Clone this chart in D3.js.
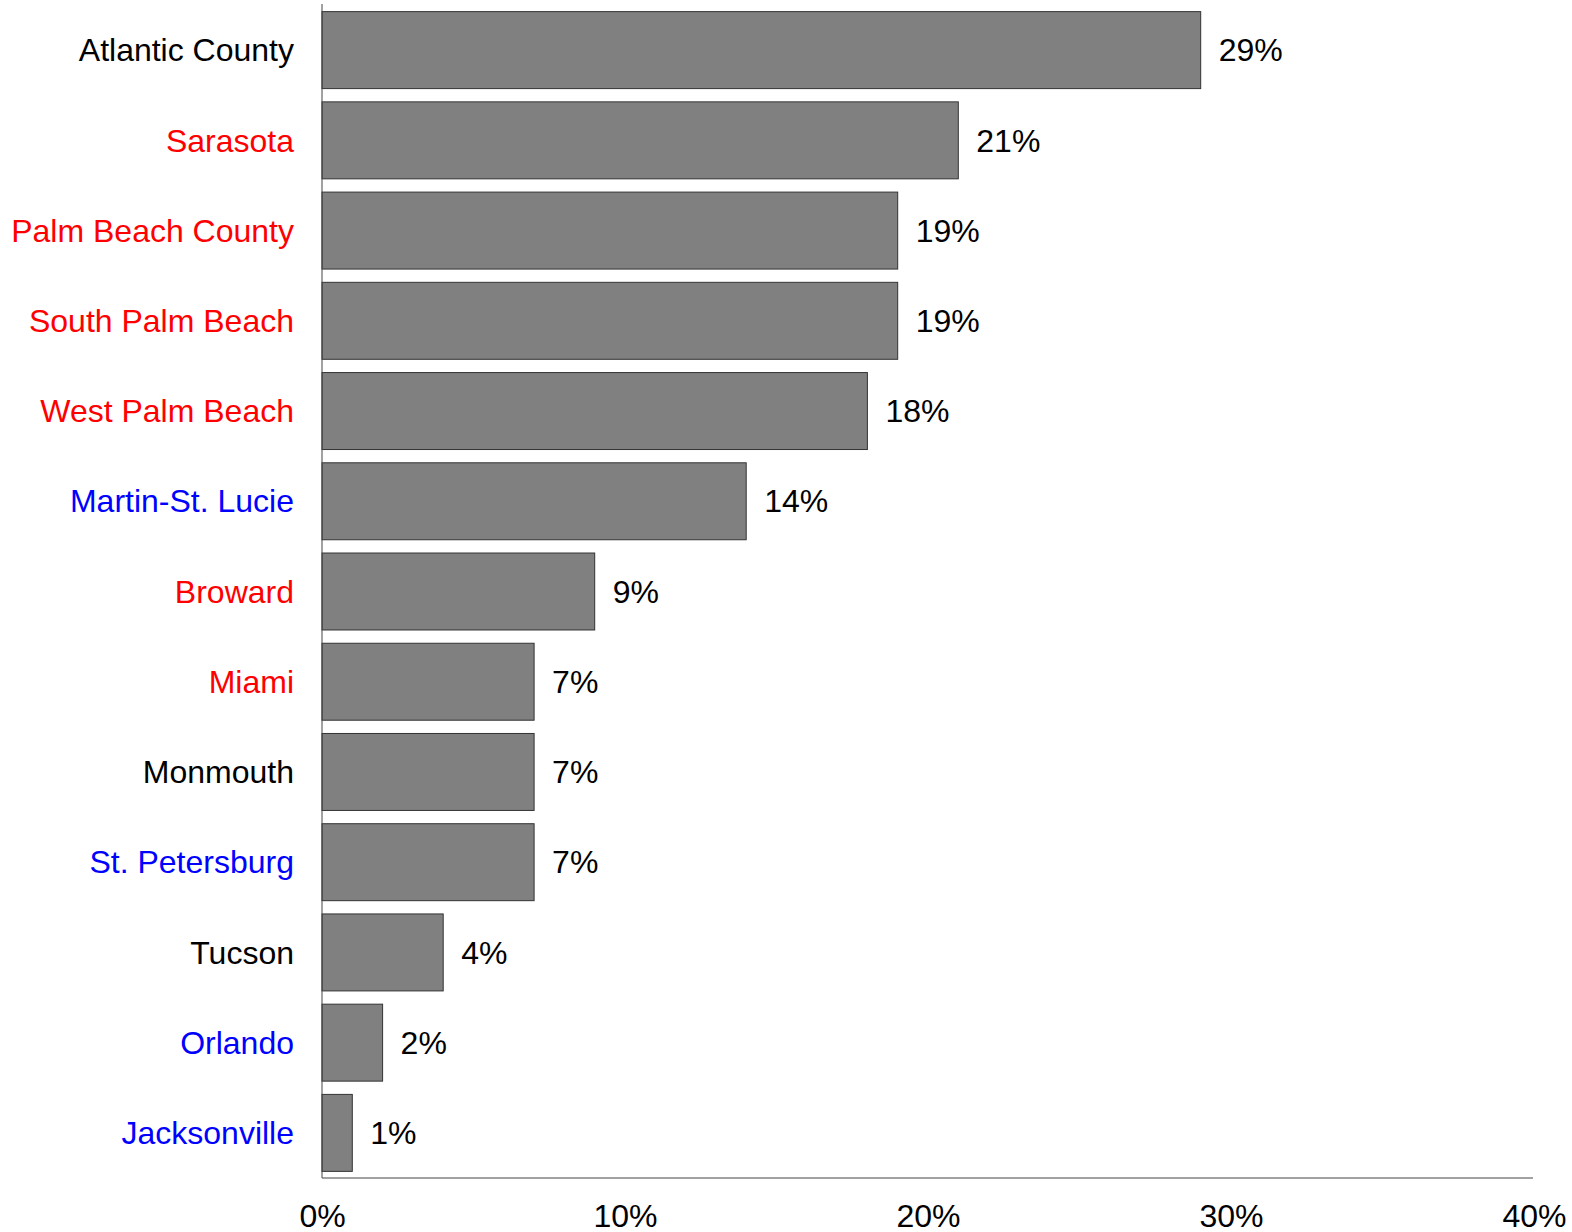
<!DOCTYPE html>
<html><head><meta charset="utf-8">
<script src="https://cdn.jsdelivr.net/npm/d3@7"></script>
<style>html,body{margin:0;padding:0;background:#fff}</style>
</head><body>
<svg id="c" width="1572" height="1232"></svg>
<script>
const categories = ["Atlantic County","Sarasota","Palm Beach County","South Palm Beach","West Palm Beach","Martin-St. Lucie","Broward","Miami","Monmouth","St. Petersburg","Tucson","Orlando","Jacksonville"];
const values = [29,21,19,19,18,14,9,7,7,7,4,2,1];
const labelColors = ["black","red","red","red","red","blue","red","red","black","blue","black","blue","blue"];
const xTicks = [0,10,20,30,40];
const tickLabels = ["0%","10%","20%","30%","40%"];

const svg = d3.select("#c");
const font = "Liberation Sans, Arial, sans-serif";
const x = d3.scaleLinear().domain([0,40]).range([322,1534]);
const y = d3.scaleBand().domain(categories).range([5,1178]).paddingInner(0.147).paddingOuter(0.0735);

svg.append("g").selectAll("rect").data(values).join("rect")
  .attr("x", x(0)).attr("y", (d,i)=>y(categories[i]))
  .attr("width", d=>x(d)-x(0)).attr("height", y.bandwidth())
  .attr("fill","#808080").attr("stroke","#333").attr("stroke-width",1);

svg.append("g").selectAll("text").data(values).join("text")
  .attr("x", d=>x(d)+18).attr("y",(d,i)=>y(categories[i])+y.bandwidth()/2)
  .attr("dy","0.35em").attr("font-family",font).attr("font-size",32).attr("fill","#000")
  .text(d=>d+"%");

svg.append("g").selectAll("text").data(categories).join("text")
  .attr("x",294).attr("y",d=>y(d)+y.bandwidth()/2).attr("dy","0.35em")
  .attr("text-anchor","end").attr("font-family",font).attr("font-size",32)
  .attr("fill",(d,i)=>labelColors[i]).text(d=>d);

const xAxis = d3.axisBottom(x).tickValues(xTicks).tickFormat((d,i)=>tickLabels[i]).tickSize(0).tickPadding(26);
const gx = svg.append("g").attr("transform","translate(0,1178)").call(xAxis);
gx.select(".domain").attr("stroke","#444").attr("d","M322,0H1533");
gx.selectAll("text").attr("font-family",font).attr("font-size",32).attr("fill","#000");

svg.append("line").attr("x1",322).attr("x2",322).attr("y1",4).attr("y2",1178).attr("stroke","#444");
</script>
</body></html>
